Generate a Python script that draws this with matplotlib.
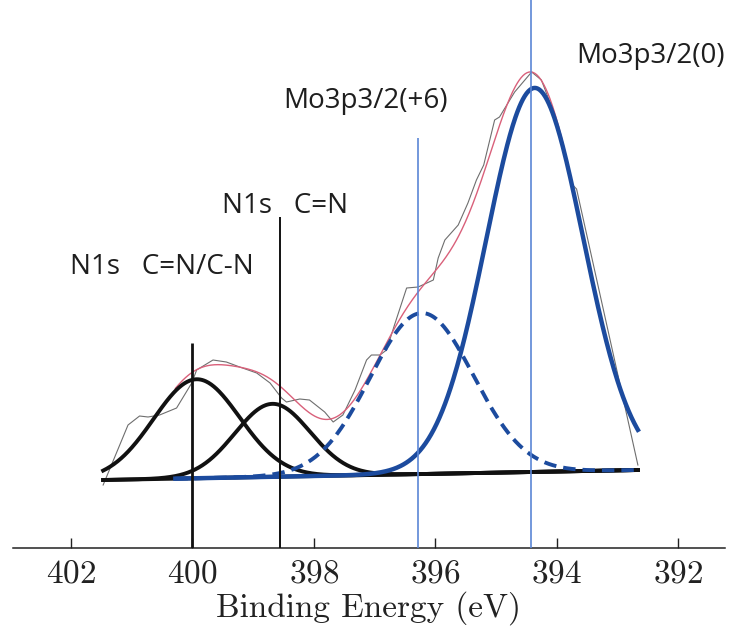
import numpy as np
import matplotlib
matplotlib.use("Agg")
import matplotlib.pyplot as plt

plt.rcParams["axes.formatter.use_mathtext"] = True

# Measured spectrum (binding energy in eV, intensity in arbitrary units)
raw_energy = [401.47, 401.06, 400.87, 400.73, 400.54, 400.26, 400.01, 399.93,
              399.66, 399.44, 399.22, 398.94, 398.72, 398.53, 398.45, 398.23,
              398.07, 397.82, 397.68, 397.52, 397.32, 397.13, 397.05, 396.91,
              396.80, 396.67, 396.47, 396.28, 396.03, 395.95, 395.84, 395.62,
              395.46, 395.32, 395.20, 395.02, 394.94, 394.69, 394.41, 394.25,
              394.06, 393.75, 393.67, 392.66]
raw_intensity = [-5, 55, 64, 63, 65, 72, 97, 110,
                 120, 118, 113, 107, 97, 82, 78, 81,
                 80, 68, 58, 65, 90, 120, 125, 125,
                 130, 155, 192, 193, 200, 222, 240, 255,
                 277, 300, 315, 360, 363, 388, 408, 400,
                 370, 296, 291, 15]

# Linear background (energy, intensity) at both ends
background_energy = [401.47, 392.66]
background_level = [0, 10]

# Gaussian components: centre (eV), height, sigma (eV)
comp_names = ["N1s C=N/C-N", "N1s C=N", "Mo3p3/2(+6)", "Mo3p3/2(0)"]
comp_center = [399.93, 398.68, 396.22, 394.36]
comp_height = [99, 73, 161, 384]
comp_sigma = [0.71, 0.62, 0.85, 0.80]

# Reference lines for peak assignments
line_energy = [400.0, 398.56, 396.29, 394.42]
line_top = [137, 263, 342, 480]

label_texts = ["N1s   C=N/C-N", "N1s   C=N", "Mo3p3/2(+6)", "Mo3p3/2(0)"]

xticks = [402, 400, 398, 396, 394, 392]

mo_start = 400.28


def background(e):
    return np.interp(e, background_energy[::-1], background_level[::-1])


def gauss(e, i):
    return comp_height[i] * np.exp(-(e - comp_center[i]) ** 2 / (2 * comp_sigma[i] ** 2))


fig = plt.figure(figsize=(7.34, 6.39), dpi=100)
ax = fig.add_axes([0.0173, 0.1424, 0.970, 0.8576])

e_full = np.linspace(background_energy[0], background_energy[1], 600)
e_mo = np.linspace(mo_start, background_energy[1], 500)

black = "#111111"
dark_blue = "#1c4b9e"
light_blue = "#5b86d6"

# raw data and fitted envelope
ax.plot(raw_energy, raw_intensity, color="#6e6e6e", lw=0.8, zorder=2)
envelope = background(e_mo) + sum(gauss(e_mo, i) for i in range(4))
ax.plot(e_mo, envelope, color="#d9607a", lw=1.0, zorder=3)

# background and nitrogen components
ax.plot(e_full, background(e_full), color=black, lw=2.8, zorder=4)
ax.plot(e_full, background(e_full) + gauss(e_full, 0), color=black, lw=2.8, zorder=4)
ax.plot(e_full, background(e_full) + gauss(e_full, 1), color=black, lw=2.8, zorder=4)

# molybdenum components
ax.plot(e_mo, background(e_mo) + gauss(e_mo, 2), color=dark_blue, lw=2.8,
        ls=(0, (3.2, 1.8)), zorder=5)
ax.plot(e_mo, background(e_mo) + gauss(e_mo, 3), color=dark_blue, lw=3.2, zorder=5)

# assignment lines
ymin = -68
ax.vlines(line_energy[0], ymin, line_top[0], color=black, lw=2.0, zorder=6)
ax.vlines(line_energy[1], ymin, line_top[1], color=black, lw=1.4, zorder=6)
ax.vlines(line_energy[2], ymin, line_top[2], color=light_blue, lw=1.2, zorder=6)
ax.vlines(line_energy[3], ymin, line_top[3], color=light_blue, lw=1.2, zorder=6)

label_pos = [(402.02, 206), (399.51, 267), (398.50, 372), (393.68, 417)]
for txt, (x, y) in zip(label_texts, label_pos):
    ax.text(x, y, txt, family="Open Sans", fontsize=20, color="#1e1e1e",
            ha="left", va="baseline")

ax.set_xlim(402.96, 391.23)
ax.set_ylim(ymin, 480)

for side in ("left", "right", "top"):
    ax.spines[side].set_visible(False)
ax.spines["bottom"].set_linewidth(1.1)
ax.spines["bottom"].set_color("#222222")
ax.set_yticks([])
ax.set_xticks(xticks)
ax.tick_params(axis="x", direction="in", length=7, width=1.0, pad=8,
               labelsize=24, colors="#222222")
for lab in ax.get_xticklabels():
    lab.set_family("cmr10")
ax.set_xlabel("Binding Energy (eV)", family="cmr10", fontsize=24,
              color="#222222", labelpad=2)

fig.savefig("out.png", dpi=100, facecolor="white")
